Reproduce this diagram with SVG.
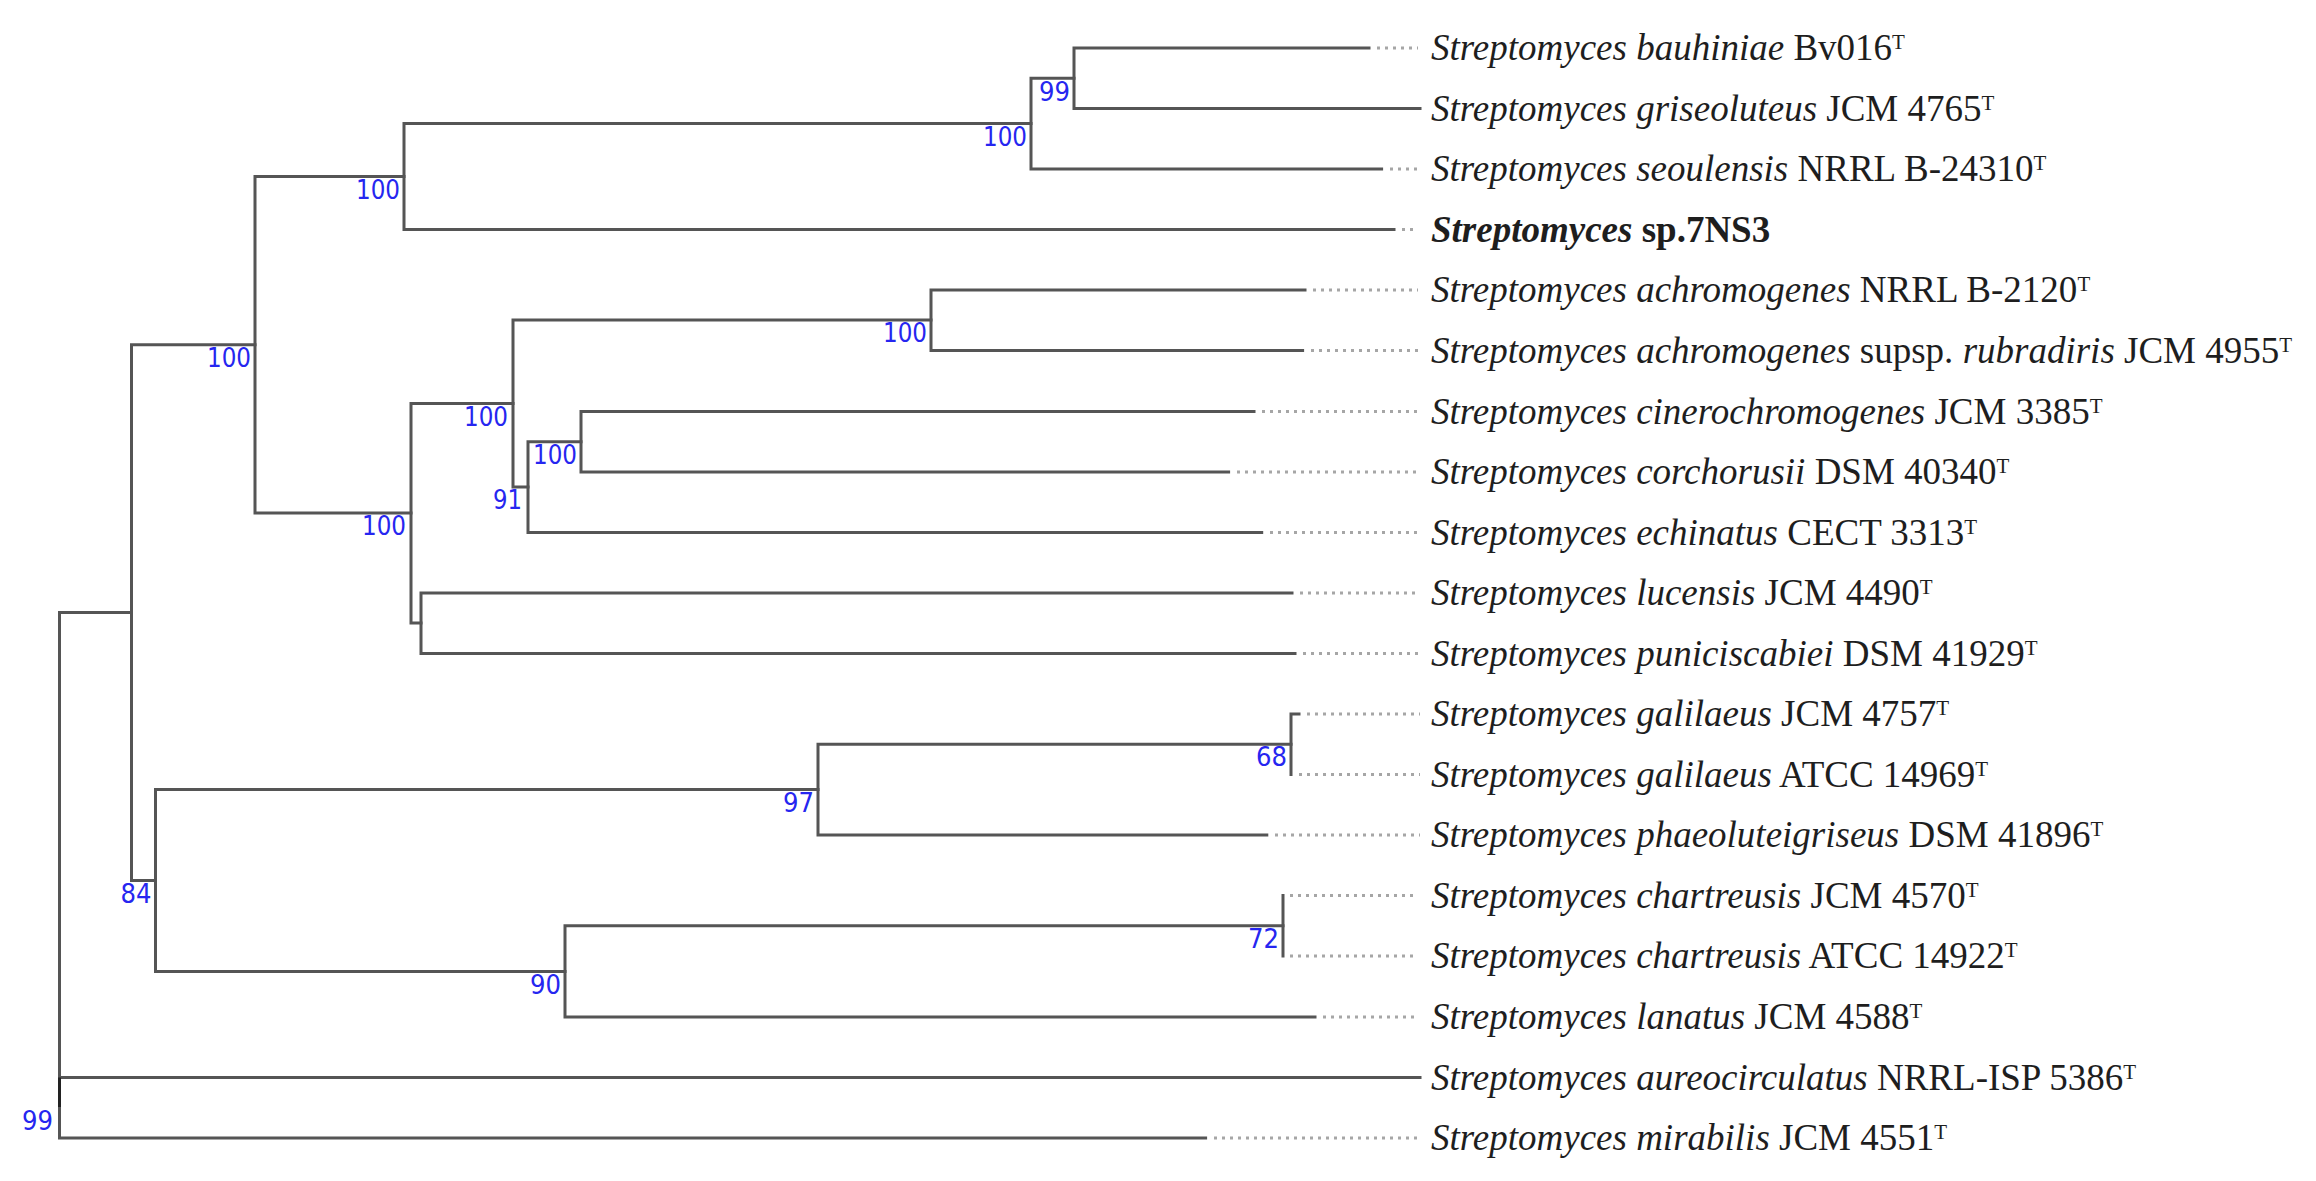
<svg xmlns="http://www.w3.org/2000/svg" width="2316" height="1181" viewBox="0 0 2316 1181">
<style>
.br{fill:none;stroke:#555;stroke-width:3;stroke-linecap:square}
.dt{fill:none;stroke:#a6a6a6;stroke-width:3;stroke-dasharray:3 5}
.tk{fill:none;stroke:#222;stroke-width:3}
.lf{font-family:"Liberation Serif","Times New Roman",serif;font-size:37px;fill:#1e1e1e}
.it{font-style:italic}
.b{font-weight:bold}
.sup{font-size:21px}
.bs{font-family:"DejaVu Sans","Liberation Sans",sans-serif;font-size:26px;fill:#2626f0;text-anchor:end}
</style>
<rect width="2316" height="1181" fill="#fff"/>
<g id="connectors">
<path class="br" d="M59.5,612.6V1138M59.5,612.6H131.5M59.5,1077.5H1420M59.5,1138H1205.6"/>
<path class="br" d="M131.5,344.75V880.4M131.5,344.75H255M131.5,880.4H155.5"/>
<path class="br" d="M255,176.5V513M255,176.5H404M255,513H411"/>
<path class="br" d="M404,123.5V229.5M404,123.5H1031M404,229.5H1394"/>
<path class="br" d="M1031,78.25V169M1031,78.25H1074M1031,169H1381.6"/>
<path class="br" d="M1074,48V108.5M1074,48H1369M1074,108.5H1420"/>
<path class="br" d="M411,403.5V623M411,403.5H513M411,623H421"/>
<path class="br" d="M513,320V487M513,320H931M513,487H528"/>
<path class="br" d="M931,290V350.5M931,290H1305M931,350.5H1302.6"/>
<path class="br" d="M528,441.75V532.5M528,441.75H581M528,532.5H1261.7"/>
<path class="br" d="M581,411.5V472M581,411.5H1254M581,472H1228.6"/>
<path class="br" d="M421,593V653.5M421,593H1292M421,653.5H1295"/>
<path class="br" d="M155.5,789.5V971.4M155.5,789.5H818M155.5,971.4H565"/>
<path class="br" d="M818,744.25V835M818,744.25H1291M818,835H1266.8"/>
<path class="br" d="M1291,714V774.5M1291,714H1299"/>
<path class="br" d="M565,925.75V1017M565,925.75H1283M565,1017H1315"/>
<path class="br" d="M1283,895.5V956"/>
<path class="tk" d="M59.5,1077.5V1107"/>
<path class="dt" d="M1377,48H1418M1390,169H1418M1402,229.5H1418M1313,290H1418M1311,350.5H1420M1262,411.5H1418M1237,472H1418M1270,532.5H1418M1300,593H1418M1303,653.5H1418M1307,714H1420M1299,774.5H1420M1275,835H1420M1290,895.5H1414M1290,956H1414M1323,1017H1414M1214,1138H1420"/>
</g>
<g id="leaf-0"><text class="lf" x="1431" y="60"><tspan class="it">Streptomyces bauhiniae</tspan> Bv016<tspan class="sup" dy="-11">T</tspan></text></g>
<g id="leaf-1"><text class="lf" x="1431" y="120.5"><tspan class="it">Streptomyces griseoluteus</tspan> JCM 4765<tspan class="sup" dy="-11">T</tspan></text></g>
<g id="leaf-2"><text class="lf" x="1431" y="181"><tspan class="it">Streptomyces seoulensis</tspan> NRRL  B-24310<tspan class="sup" dy="-11">T</tspan></text></g>
<g id="leaf-3"><text class="lf b" x="1431" y="241.5"><tspan class="it">Streptomyces</tspan> sp.7NS3</text></g>
<g id="leaf-4"><text class="lf" x="1431" y="302"><tspan class="it">Streptomyces achromogenes</tspan> NRRL B-2120<tspan class="sup" dy="-11">T</tspan></text></g>
<g id="leaf-5"><text class="lf" x="1431" y="362.5"><tspan class="it">Streptomyces achromogenes</tspan> supsp. <tspan class="it">rubradiris</tspan> JCM 4955<tspan class="sup" dy="-11">T</tspan></text></g>
<g id="leaf-6"><text class="lf" x="1431" y="423.5"><tspan class="it">Streptomyces cinerochromogenes</tspan> JCM 3385<tspan class="sup" dy="-11">T</tspan></text></g>
<g id="leaf-7"><text class="lf" x="1431" y="484"><tspan class="it">Streptomyces corchorusii</tspan> DSM 40340<tspan class="sup" dy="-11">T</tspan></text></g>
<g id="leaf-8"><text class="lf" x="1431" y="544.5"><tspan class="it">Streptomyces echinatus</tspan> CECT 3313<tspan class="sup" dy="-11">T</tspan></text></g>
<g id="leaf-9"><text class="lf" x="1431" y="605"><tspan class="it">Streptomyces lucensis</tspan> JCM 4490<tspan class="sup" dy="-11">T</tspan></text></g>
<g id="leaf-10"><text class="lf" x="1431" y="665.5"><tspan class="it">Streptomyces puniciscabiei</tspan> DSM 41929<tspan class="sup" dy="-11">T</tspan></text></g>
<g id="leaf-11"><text class="lf" x="1431" y="726"><tspan class="it">Streptomyces galilaeus</tspan> JCM 4757<tspan class="sup" dy="-11">T</tspan></text></g>
<g id="leaf-12"><text class="lf" x="1431" y="786.5"><tspan class="it">Streptomyces galilaeus</tspan> ATCC 14969<tspan class="sup" dy="-11">T</tspan></text></g>
<g id="leaf-13"><text class="lf" x="1431" y="847"><tspan class="it">Streptomyces phaeoluteigriseus</tspan> DSM 41896<tspan class="sup" dy="-11">T</tspan></text></g>
<g id="leaf-14"><text class="lf" x="1431" y="907.5"><tspan class="it">Streptomyces chartreusis</tspan> JCM 4570<tspan class="sup" dy="-11">T</tspan></text></g>
<g id="leaf-15"><text class="lf" x="1431" y="968"><tspan class="it">Streptomyces chartreusis</tspan> ATCC 14922<tspan class="sup" dy="-11">T</tspan></text></g>
<g id="leaf-16"><text class="lf" x="1431" y="1029"><tspan class="it">Streptomyces lanatus</tspan> JCM 4588<tspan class="sup" dy="-11">T</tspan></text></g>
<g id="leaf-17"><text class="lf" x="1431" y="1089.5"><tspan class="it">Streptomyces aureocirculatus</tspan> NRRL-ISP 5386<tspan class="sup" dy="-11">T</tspan></text></g>
<g id="leaf-18"><text class="lf" x="1431" y="1150"><tspan class="it">Streptomyces mirabilis</tspan> JCM 4551<tspan class="sup" dy="-11">T</tspan></text></g>
<g id="node-A"><text class="bs" x="1070" y="100.5" textLength="31" lengthAdjust="spacingAndGlyphs">99</text></g>
<g id="node-B"><text class="bs" x="1027" y="145.5" textLength="44" lengthAdjust="spacingAndGlyphs">100</text></g>
<g id="node-C"><text class="bs" x="400" y="198.5" textLength="44" lengthAdjust="spacingAndGlyphs">100</text></g>
<g id="node-J"><text class="bs" x="251" y="366.5" textLength="44" lengthAdjust="spacingAndGlyphs">100</text></g>
<g id="node-D"><text class="bs" x="927" y="342" textLength="44" lengthAdjust="spacingAndGlyphs">100</text></g>
<g id="node-G"><text class="bs" x="508" y="425.5" textLength="44" lengthAdjust="spacingAndGlyphs">100</text></g>
<g id="node-F"><text class="bs" x="522" y="509" textLength="29" lengthAdjust="spacingAndGlyphs">91</text></g>
<g id="node-E"><text class="bs" x="577" y="463.5" textLength="44" lengthAdjust="spacingAndGlyphs">100</text></g>
<g id="node-I"><text class="bs" x="406" y="535" textLength="44" lengthAdjust="spacingAndGlyphs">100</text></g>
<g id="node-P"><text class="bs" x="151.5" y="902.5" textLength="31" lengthAdjust="spacingAndGlyphs">84</text></g>
<g id="node-M"><text class="bs" x="814" y="811.5" textLength="31" lengthAdjust="spacingAndGlyphs">97</text></g>
<g id="node-K"><text class="bs" x="1287" y="766" textLength="31" lengthAdjust="spacingAndGlyphs">68</text></g>
<g id="node-O"><text class="bs" x="561" y="993.5" textLength="31" lengthAdjust="spacingAndGlyphs">90</text></g>
<g id="node-N"><text class="bs" x="1279" y="948" textLength="31" lengthAdjust="spacingAndGlyphs">72</text></g>
<g id="node-root"><text class="bs" x="53" y="1130" textLength="31" lengthAdjust="spacingAndGlyphs">99</text></g>
</svg>
